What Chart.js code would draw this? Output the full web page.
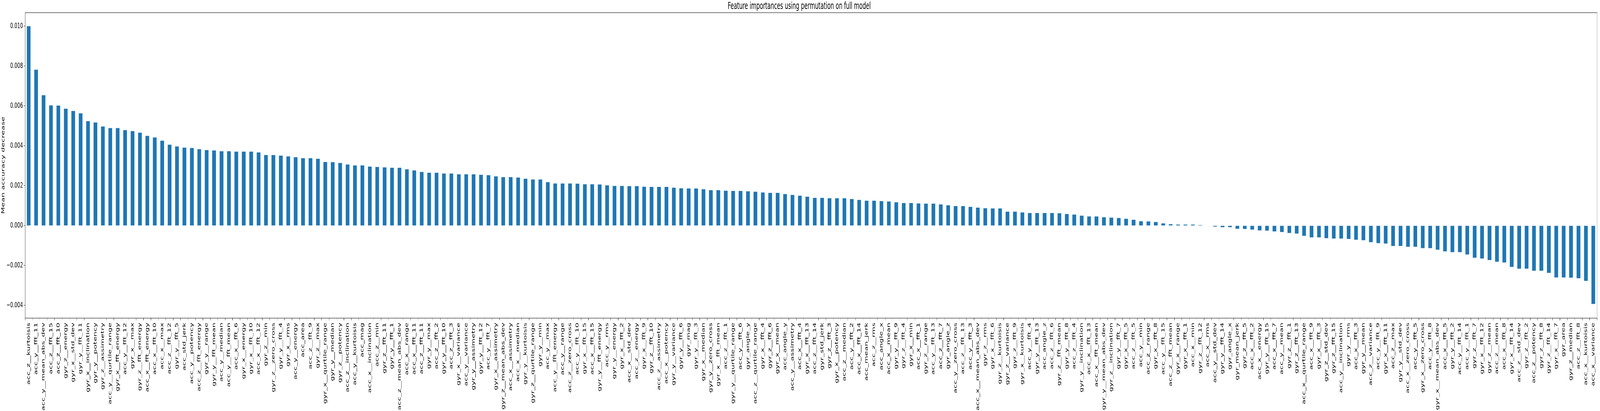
<!DOCTYPE html>
<html>
<head>
<meta charset="utf-8">
<script src="https://cdn.jsdelivr.net/npm/chart.js@4"></script>
<style>
  html, body { margin: 0; padding: 0; background: #fff; overflow: hidden; }
  #chart-canvas { display: block; }
</style>
</head>
<body>
<canvas id="chart-canvas" width="7171" height="1051"></canvas>
<script>
// feature names, in the order they appear (sorted by importance)
const features = [
    "acc_z__kurtoisis", "acc_y__fft_11", "acc_y__mean_abs_dev", "acc_z__fft_15", "acc_z__fft_10",
    "gyr_z__energy", "gyr_x__std_dev", "gyr_y__fft_11", "gyr_x__inclination", "gyr_y__potency",
    "gyr_z__assimetry", "acc_y__qurtile_range", "gyr_x__fft_energy", "acc_y__fft_12", "gyr_x__max",
    "gyr_z__fft_energy", "acc_x__fft_energy", "acc_x__fft_10", "acc_x__max", "acc_z__fft_12",
    "gyr_y__fft_5", "acc_std_jerk", "acc_y__potency", "acc_z__fft_energy", "gyr_y__range",
    "gyr_y__fft_mean", "acc_y__median", "acc_y__fft_mean", "acc_x__fft_6", "gyr_x__energy",
    "gyr_x__fft_10", "acc_x__fft_12", "gyr_z__min", "gyr_z__zero_cross", "gyr_y__fft_4",
    "gyr_x__rms", "acc_y__energy", "acc_area", "acc_z__fft_9", "gyr_z__max",
    "gyr_x__qurtile_range", "gyr_y__median", "gyr_z__potency", "acc_z__inclination", "acc_y__kurtoisis",
    "acc_mag", "acc_x__inclination", "acc_z__min", "gyr_z__fft_11", "gyr_y__fft_1",
    "acc_z__mean_abs_dev", "acc_x__range", "acc_x__fft_11", "acc_z__fft_11", "gyr_y__max",
    "acc_z__fft_2", "gyr_y__fft_10", "acc_z__fft_3", "gyr_x__variance", "acc_y__variance",
    "gyr_y__assimetry", "gyr_y__fft_12", "acc_y__fft_7", "gyr_x__assimetry", "gyr_z__mean_abs_dev",
    "acc_x__assimetry", "acc_x__median", "gyr_y__kurtoisis", "gyr_z__qurtile_range", "gyr_y__min",
    "acc_y__max", "acc_y__fft_energy", "acc_y__range", "acc_z__zero_cross", "acc_y__fft_10",
    "gyr_x__fft_15", "acc_x__fft_15", "gyr_y__fft_energy", "acc_y__rms", "gyr_y__energy",
    "gyr_x__fft_2", "acc_x__std_dev", "acc_z__energy", "gyr_x__fft_9", "gyr_z__fft_10",
    "acc_z__assimetry", "acc_x__potency", "gyr_y__variance", "gyr_y__fft_6", "gyr_mag",
    "gyr_y__fft_3", "gyr_x__median", "gyr_y__zero_cross", "gyr_x__fft_mean", "acc_z__fft_1",
    "gyr_y__qurtile_range", "acc_y__fft_6", "gyr_angle_y", "acc_z__qurtile_range", "gyr_x__fft_4",
    "gyr_z__fft_6", "gyr_x__mean", "acc_angle_y", "acc_y__assimetry", "acc_x__fft_4",
    "gyr_x__fft_13", "acc_z__fft_14", "gyr_std_jerk", "gyr_z__fft_3", "gyr_x__potency",
    "acc_z__median", "acc_y__fft_2", "acc_x__fft_14", "acc_mean_jerk", "acc_z__rms",
    "acc_angle_x", "acc_x__mean", "gyr_y__fft_9", "gyr_z__fft_4", "gyr_x__min",
    "acc_x__fft_1", "gyr_z__range", "acc_y__fft_13", "acc_z__fft_7", "gyr_angle_z",
    "acc_y__zero_cross", "acc_z__fft_13", "acc_y__fft_3", "acc_x__mean_abs_dev", "gyr_z__rms",
    "gyr_x__fft_6", "gyr_z__kurtoisis", "gyr_z__variance", "gyr_z__fft_9", "gyr_x__kurtoisis",
    "acc_y__fft_4", "gyr_y__fft_13", "acc_angle_z", "acc_z__fft_6", "gyr_z__fft_mean",
    "gyr_y__fft_8", "acc_z__fft_4", "gyr_y__inclination", "acc_x__fft_13", "acc_x__fft_mean",
    "gyr_y__mean_abs_dev", "gyr_z__inclination", "gyr_y__fft_7", "gyr_x__fft_5", "acc_z__fft_5",
    "acc_y__min", "acc_z__range", "gyr_x__fft_8", "acc_y__fft_15", "acc_z__fft_mean",
    "gyr_x__range", "gyr_x__fft_1", "acc_x__min", "gyr_z__fft_12", "acc_x__rms",
    "acc_y__std_dev", "gyr_y__fft_14", "gyr_angle_x", "gyr_mean_jerk", "gyr_z__fft_5",
    "acc_x__fft_2", "acc_x__energy", "gyr_y__fft_15", "acc_x__fft_7", "acc_y__mean",
    "gyr_z__fft_1", "gyr_z__fft_13", "acc_x__qurtile_range", "acc_x__fft_9", "gyr_x__fft_3",
    "gyr_z__std_dev", "gyr_z__fft_15", "acc_y__inclination", "gyr_y__rms", "acc_x__fft_3",
    "gyr_y__mean", "acc_z__variance", "acc_y__fft_9", "gyr_x__fft_11", "acc_z__max",
    "gyr_y__std_dev", "acc_x__zero_cross", "acc_y__fft_5", "gyr_x__zero_cross", "acc_y__fft_8",
    "gyr_x__mean_abs_dev", "acc_x__fft_5", "gyr_y__fft_2", "acc_y__fft_14", "acc_y__fft_1",
    "gyr_z__fft_7", "gyr_x__fft_12", "gyr_z__mean", "acc_z__mean", "acc_x__fft_8",
    "gyr_x__fft_14", "acc_z__std_dev", "gyr_z__fft_2", "acc_z__potency", "gyr_z__fft_8",
    "gyr_z__fft_14", "gyr_x__fft_7", "gyr_area", "gyr_z__median", "acc_z__fft_8",
    "acc_x__kurtoisis", "acc_x__variance"
];

// mean accuracy decrease for each feature
const importances = [
    0.01000, 0.00782, 0.00654, 0.00603, 0.00602,
    0.00586, 0.00575, 0.00563, 0.00524, 0.00517,
    0.00497, 0.00489, 0.00489, 0.00479, 0.00474,
    0.00466, 0.00450, 0.00442, 0.00426, 0.00406,
    0.00397, 0.00391, 0.00389, 0.00383, 0.00379,
    0.00377, 0.00373, 0.00373, 0.00371, 0.00371,
    0.00371, 0.00367, 0.00354, 0.00354, 0.00351,
    0.00347, 0.00343, 0.00338, 0.00338, 0.00335,
    0.00319, 0.00318, 0.00314, 0.00306, 0.00302,
    0.00302, 0.00296, 0.00294, 0.00292, 0.00290,
    0.00290, 0.00282, 0.00277, 0.00269, 0.00265,
    0.00265, 0.00261, 0.00261, 0.00257, 0.00257,
    0.00257, 0.00255, 0.00253, 0.00247, 0.00243,
    0.00243, 0.00241, 0.00235, 0.00231, 0.00231,
    0.00218, 0.00211, 0.00211, 0.00211, 0.00210,
    0.00207, 0.00207, 0.00206, 0.00202, 0.00199,
    0.00199, 0.00198, 0.00198, 0.00195, 0.00194,
    0.00194, 0.00194, 0.00190, 0.00187, 0.00186,
    0.00186, 0.00182, 0.00178, 0.00178, 0.00175,
    0.00174, 0.00174, 0.00172, 0.00170, 0.00166,
    0.00164, 0.00164, 0.00158, 0.00154, 0.00150,
    0.00145, 0.00139, 0.00139, 0.00137, 0.00137,
    0.00137, 0.00133, 0.00129, 0.00125, 0.00125,
    0.00123, 0.00121, 0.00117, 0.00113, 0.00113,
    0.00111, 0.00110, 0.00110, 0.00106, 0.00102,
    0.00098, 0.00098, 0.00094, 0.00090, 0.00087,
    0.00086, 0.00086, 0.00070, 0.00070, 0.00066,
    0.00063, 0.00063, 0.00063, 0.00063, 0.00062,
    0.00058, 0.00055, 0.00050, 0.00046, 0.00046,
    0.00042, 0.00040, 0.00038, 0.00034, 0.00029,
    0.00022, 0.00021, 0.00018, 0.00011, 0.00007,
    0.00005, 0.00005, 0.00005, 0.00003, 0.00000,
    -0.00005, -0.00008, -0.00008, -0.00016, -0.00017,
    -0.00020, -0.00024, -0.00025, -0.00029, -0.00032,
    -0.00037, -0.00040, -0.00051, -0.00059, -0.00059,
    -0.00063, -0.00065, -0.00065, -0.00067, -0.00071,
    -0.00073, -0.00083, -0.00088, -0.00090, -0.00102,
    -0.00102, -0.00106, -0.00106, -0.00113, -0.00113,
    -0.00121, -0.00129, -0.00133, -0.00133, -0.00145,
    -0.00161, -0.00165, -0.00173, -0.00181, -0.00185,
    -0.00207, -0.00216, -0.00216, -0.00226, -0.00226,
    -0.00237, -0.00260, -0.00260, -0.00261, -0.00264,
    -0.00277, -0.00393
];

// y axis ticks and limits
const yTicks = [-0.004, -0.002, 0.000, 0.002, 0.004, 0.006, 0.008, 0.010];
const yMin = -0.00463;
const yMax = 0.01069;

const fontFamily = "'DejaVu Sans', sans-serif";

// box around the plot area (matplotlib spines)
const frameBox = {
    id: 'frameBox',
    afterDraw(chart) {
        const a = chart.chartArea;
        const ctx = chart.ctx;
        ctx.save();
        ctx.strokeStyle = '#000';
        ctx.lineWidth = 1;
        ctx.strokeRect(Math.round(a.left) + 0.5, Math.round(a.top) + 0.5,
            Math.round(a.right - a.left), Math.round(a.bottom - a.top));
        ctx.restore();
    }
};

const chartCanvas = document.getElementById("chart-canvas");
// the chart is laid out on a 7171x1051 canvas; the browser view may be narrower,
// so the canvas is stretched to fill whatever the window really is
chartCanvas.style.width = window.innerWidth + 'px';
chartCanvas.style.height = window.innerHeight + 'px';

const chart = new Chart(chartCanvas, {
    type: 'bar',
    data: {
        labels: features,
        datasets: [{
            data: importances,
            backgroundColor: '#1f77b4',
            barPercentage: 0.5,
            categoryPercentage: 1.0
        }]
    },
    options: {
        responsive: false,
        animation: false,
        devicePixelRatio: 1,
        events: [],
        layout: { padding: { right: 7, left: 0, top: 0, bottom: 0 } },
        plugins: {
            legend: { display: false },
            tooltip: { enabled: false },
            title: {
                display: true,
                text: 'Feature importances using permutation on full model',
                color: '#000',
                font: { family: fontFamily, size: 24, weight: 'normal', lineHeight: 1.2 },
                padding: { top: 2, bottom: 1 }
            }
        },
        scales: {
            x: {
                grid: { display: true, drawOnChartArea: false, drawTicks: true, tickLength: 6, color: '#000' },
                border: { display: false },
                ticks: {
                    autoSkip: false,
                    maxRotation: 90,
                    minRotation: 90,
                    padding: 6,
                    color: '#000',
                    font: { family: fontFamily, size: 20 }
                },
                afterFit(scale) { scale.height = 238; }
            },
            y: {
                min: yMin,
                max: yMax,
                grid: { display: true, drawOnChartArea: false, drawTicks: true, tickLength: 5, color: '#000' },
                border: { display: false },
                afterBuildTicks(scale) {
                    scale.ticks = yTicks.map(v => ({ value: v }));
                },
                ticks: {
                    padding: 4,
                    color: '#000',
                    font: { family: fontFamily, size: 20 },
                    callback: v => (v < -1e-9 ? '\u2212' : '') + Math.abs(v).toFixed(3)
                },
                title: {
                    display: true,
                    text: 'Mean accuracy decrease',
                    color: '#000',
                    font: { family: fontFamily, size: 20 },
                    padding: { top: 3, bottom: 0 }
                },
                afterFit(scale) { scale.width = 112; }
            }
        }
    },
    plugins: [frameBox]
});
</script>
</body>
</html>
